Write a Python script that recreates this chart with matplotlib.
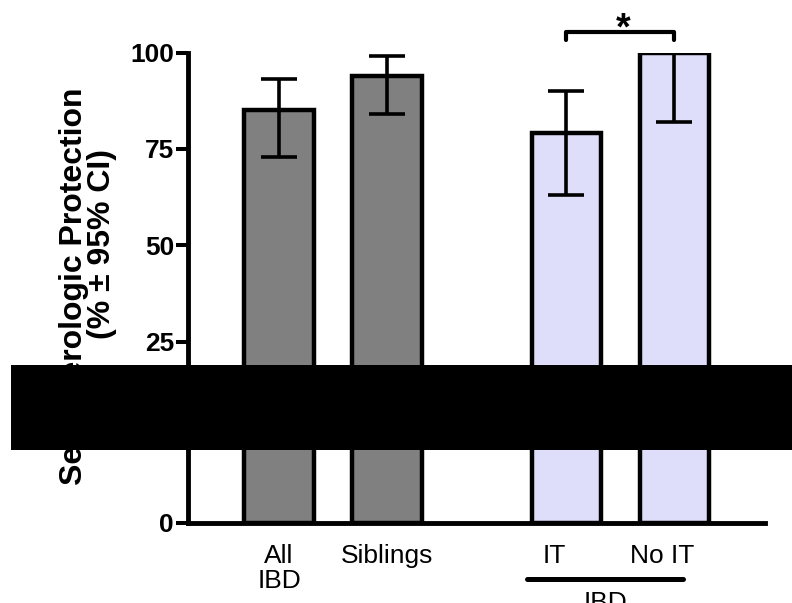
import matplotlib.pyplot as plt
import numpy as np
from matplotlib.patches import Rectangle
from matplotlib.transforms import Bbox, TransformedBbox, ScaledTranslation

groups = ['All\nIBD', 'Siblings', 'IT', 'No IT']
protection = [85, 94, 79, 100]
ci_low = [73, 84, 63, 82]
ci_high = [93, 99, 90, 100]
bar_colors = ['#808080', '#808080', '#dedefa', '#dedefa']
x_pos = [0, 1, 2.66, 3.66]
yticks = [0, 25, 50, 75, 100]

plt.rcParams['font.family'] = ['Liberation Sans', 'DejaVu Sans']

# a black band was pasted across the picture, everything under it sits 85 px lower
# -> stretch the axis below the band so the 0 line lands where it is in the reference
Y_BREAK = 19.0
STRETCH = 41.0 / 19.0

def fwd(y):
    y = np.asarray(y, dtype=float)
    return np.where(y >= Y_BREAK, y, Y_BREAK - (Y_BREAK - y) * STRETCH)

def inv(t):
    t = np.asarray(t, dtype=float)
    return np.where(t >= Y_BREAK, t, Y_BREAK - (Y_BREAK - t) / STRETCH)

fig = plt.figure(figsize=(7.92, 6.03), dpi=100)
ax = fig.add_axes([188 / 792, 1 - 523 / 603, (765 - 188) / 792, (523 - 52.5) / 603])
ax.set_yscale('function', functions=(fwd, inv))
ax.set_ylim(0, 100)
ax.set_xlim(-0.843, 4.5)

err = [np.subtract(protection, ci_low), np.subtract(ci_high, protection)]
ax.bar(x_pos, protection, width=0.64, color=bar_colors, edgecolor='black',
       linewidth=3.2, zorder=2)
ax.errorbar(x_pos, protection, yerr=err, fmt='none', ecolor='black',
            elinewidth=2.6, capsize=13, capthick=2.6, zorder=3)

for s in ['top', 'right']:
    ax.spines[s].set_visible(False)
ax.spines['left'].set_linewidth(3.5)
ax.spines['bottom'].set_linewidth(3.5)

ax.set_yticks(yticks)
ax.set_yticklabels([str(v) for v in yticks], fontweight='bold')
ax.tick_params(axis='y', length=9, width=2.9, pad=1, labelsize=19)
ax.set_xticks(x_pos)
ax.set_xticklabels(groups, fontsize=19, linespacing=1.05)
ax.tick_params(axis='x', length=0, pad=15)

# IT / No IT labels sit a bit left of their bars in the reference
shift = ScaledTranslation(-12 / 100, 0, fig.dpi_scale_trans)
for lab in ax.get_xticklabels()[2:]:
    lab.set_transform(lab.get_transform() + shift)

# significance bracket
ax.plot([x_pos[2], x_pos[2], x_pos[3], x_pos[3]], [103.2, 105.3, 105.3, 103.2],
        color='black', lw=3, clip_on=False, solid_capstyle='round')
ax.text((x_pos[2] + x_pos[3]) / 2 + 0.03, 103.4, '*', ha='center', va='baseline',
        fontsize=27, fontweight='bold', clip_on=False)

# IBD group underline
xt = ax.get_xaxis_transform()
ax.plot([2.30, 3.74], [-0.119, -0.119], transform=xt, color='black', lw=3.6,
        clip_on=False, solid_capstyle='round')
ax.text(3.02, -0.145, 'IBD', transform=xt, ha='center', va='top', fontsize=19)

# y label: upper part above the band, lower part shifted under it
label = 'Serologic Protection\n(% \u00b1 95% CI)'
band_top, band_bot = 1 - 365 / 603, 1 - 450 / 603
for dy, (y0, y1) in [(0, (band_top, 1)), (85 / 603, (0, band_bot))]:
    t = fig.text(88 / 792, 1 - 244 / 603 - dy, label, rotation=90, ha='center',
                 va='center', fontsize=23, fontweight='bold', linespacing=0.95,
                 multialignment='center')
    t.set_clip_box(TransformedBbox(Bbox([[0, y0], [1, y1]]), fig.transFigure))
    t.set_clip_on(True)

fig.add_artist(Rectangle((11 / 792, band_bot), 1, 85 / 603, transform=fig.transFigure,
                         facecolor='black', edgecolor='none', zorder=10))

fig.savefig('out.png', dpi=100)
